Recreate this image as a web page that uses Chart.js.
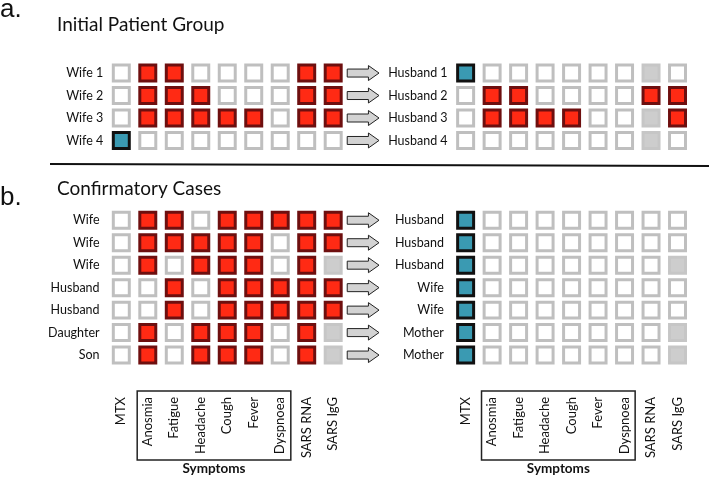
<!DOCTYPE html>
<html><head><meta charset="utf-8">
<script src="https://cdn.jsdelivr.net/npm/chart.js@4/dist/chart.umd.min.js"></script>
<style>html,body{margin:0;padding:0;background:#fff}#wrap{width:709px;height:478px}</style>
</head><body><div id="wrap"><canvas id="c" width="709" height="478"></canvas></div>
<script>
// ---- data ----
const columnLabels = ['MTX','Anosmia','Fatigue','Headache','Cough','Fever','Dyspnoea','SARS RNA','SARS IgG'];
const symptomGroupLabel = 'Symptoms';
const symptomFirstCol = 1, symptomLastCol = 6;
// status codes: 0 = negative, 1 = positive, 2 = MTX treated, 3 = not tested
const initialIndexLabels = ['Wife 1','Wife 2','Wife 3','Wife 4'];
const initialIndexStatus = [
  [0,1,1,0,0,0,0,1,1],
  [0,1,1,1,0,0,0,1,1],
  [0,1,1,1,1,1,0,1,1],
  [2,0,0,0,0,0,0,0,0]
];
const initialPartnerLabels = ['Husband 1','Husband 2','Husband 3','Husband 4'];
const initialPartnerStatus = [
  [2,0,0,0,0,0,0,3,0],
  [0,1,1,0,0,0,0,1,1],
  [0,1,1,1,1,0,0,3,1],
  [0,0,0,0,0,0,0,3,0]
];
const confirmIndexLabels = ['Wife','Wife','Wife','Husband','Husband','Daughter','Son'];
const confirmIndexStatus = [
  [0,1,1,0,1,1,1,1,1],
  [0,1,1,1,1,1,0,1,1],
  [0,1,0,1,1,1,0,1,3],
  [0,0,1,0,1,1,1,1,1],
  [0,0,1,0,1,1,1,1,1],
  [0,1,0,1,1,1,0,1,3],
  [0,1,0,1,1,1,0,1,3]
];
const confirmPartnerLabels = ['Husband','Husband','Husband','Wife','Wife','Mother','Mother'];
const confirmPartnerStatus = [
  [2,0,0,0,0,0,0,0,0],
  [2,0,0,0,0,0,0,0,0],
  [2,0,0,0,0,0,0,0,3],
  [2,0,0,0,0,0,0,0,0],
  [2,0,0,0,0,0,0,0,0],
  [2,0,0,0,0,0,0,0,3],
  [2,0,0,0,0,0,0,0,3]
];
const panelTitles = ['Initial Patient Group','Confirmatory Cases'];
const panelLetters = ['a.','b.'];

// ---- layout (grid units) ----
const RIGHT_COL0 = 13;
const PANEL_B_ROW0 = 6.55;
const blocks = [
  {labels: initialIndexLabels, status: initialIndexStatus, col0: 0, row0: 0},
  {labels: initialPartnerLabels, status: initialPartnerStatus, col0: RIGHT_COL0, row0: 0},
  {labels: confirmIndexLabels, status: confirmIndexStatus, col0: 0, row0: PANEL_B_ROW0},
  {labels: confirmPartnerLabels, status: confirmPartnerStatus, col0: RIGHT_COL0, row0: PANEL_B_ROW0}
];

const styles = [
  {bg:'#ffffff', border:'#bfbfbf'},
  {bg:'#ff2a14', border:'#6e0f0f'},
  {bg:'#3a9ab2', border:'#111111'},
  {bg:'#cdcdcd', border:'#c6c6c6'}
];
const points = [[],[],[],[]];
blocks.forEach(b => b.status.forEach((row, r) => row.forEach((s, c) => {
  points[s].push({x: b.col0 + c, y: b.row0 + r});
})));
const datasets = points.map((pts, i) => ({
  data: pts,
  pointStyle: 'rect',
  pointRadius: 11.3,
  pointHoverRadius: 11.3,
  pointBorderWidth: 3,
  pointHoverBorderWidth: 3,
  backgroundColor: styles[i].bg,
  borderColor: styles[i].border,
  showLine: false
}));

const FONT = 'Lato, "Open Sans", sans-serif';

const decor = {
  id: 'decor',
  beforeDraw(chart) {
    const ctx = chart.ctx;
    ctx.save(); ctx.fillStyle = '#fff'; ctx.fillRect(0, 0, chart.width, chart.height); ctx.restore();
  },
  afterDatasetsDraw(chart) {
    const ctx = chart.ctx, xs = chart.scales.x, ys = chart.scales.y;
    const X = v => xs.getPixelForValue(v), Y = v => ys.getPixelForValue(v);
    ctx.save();
    ctx.fillStyle = '#111';
    // panel letters and titles
    ctx.textBaseline = 'alphabetic';
    ctx.textAlign = 'left';
    ctx.font = '26px "Liberation Sans", Arial, sans-serif';
    ctx.fillText(panelLetters[0], 0, 17);
    ctx.fillText(panelLetters[1], 0, 205);
    ctx.font = '19px ' + FONT;
    ctx.fillText(panelTitles[0], 57, 31);
    ctx.fillText(panelTitles[1], 57, 195);
    // separator
    ctx.strokeStyle = '#111'; ctx.lineWidth = 2;
    ctx.beginPath(); ctx.moveTo(50, 164); ctx.lineTo(709, 166); ctx.stroke();
    // row labels
    ctx.font = '12.5px ' + FONT;
    ctx.textAlign = 'right'; ctx.textBaseline = 'middle';
    blocks.forEach((b, bi) => {
      const off = (bi >= 2) ? -0.82 : -0.68;
      b.labels.forEach((lab, r) => ctx.fillText(lab, X(b.col0 + off), Y(b.row0 + r)));
    });
    // arrows
    ctx.fillStyle = '#d3d3d3'; ctx.strokeStyle = '#222'; ctx.lineWidth = 1;
    blocks[0].labels.concat(blocks[2].labels).forEach((_, i) => {
      const row = i < blocks[0].labels.length ? i : PANEL_B_ROW0 + i - blocks[0].labels.length;
      const y = Y(row), x0 = X(8.53), xh = X(9.33), x1 = X(9.73);
      ctx.beginPath();
      ctx.moveTo(x0, y - 4); ctx.lineTo(xh, y - 4); ctx.lineTo(xh, y - 7.5);
      ctx.lineTo(x1, y); ctx.lineTo(xh, y + 7.5); ctx.lineTo(xh, y + 4); ctx.lineTo(x0, y + 4);
      ctx.closePath(); ctx.fill(); ctx.stroke();
    });
    // column labels, symptom boxes
    ctx.fillStyle = '#111';
    [0, RIGHT_COL0].forEach(c0 => {
      ctx.font = '13px ' + FONT;
      ctx.textAlign = 'right'; ctx.textBaseline = 'middle';
      columnLabels.forEach((lab, c) => {
        ctx.save();
        ctx.translate(X(c0 + c), 397);
        ctx.rotate(-Math.PI / 2);
        ctx.fillText(lab, 0, 0);
        ctx.restore();
      });
      const bx0 = X(c0 + symptomFirstCol - 0.4), bx1 = X(c0 + symptomLastCol + 0.4);
      ctx.strokeStyle = '#222'; ctx.lineWidth = 1.5;
      ctx.strokeRect(bx0, 391, bx1 - bx0, 69);
      ctx.font = 'bold 13.5px ' + FONT;
      ctx.textAlign = 'center';
      ctx.fillText(symptomGroupLabel, (bx0 + bx1) / 2, 469);
    });
    ctx.restore();
  }
};

new Chart(document.getElementById('c'), {
  type: 'scatter',
  data: { datasets },
  options: {
    responsive: false,
    animation: false,
    events: [],
    layout: { padding: 0 },
    plugins: { legend: {display: false}, tooltip: {enabled: false} },
    scales: {
      x: { type: 'linear', min: -111.5 / 27.6, max: (709 - 111.5) / 27.6, display: false },
      y: { type: 'linear', min: -62.5 / 23.9, max: (478 - 62.5) / 23.9, reverse: true, display: false }
    }
  },
  plugins: [decor]
});
</script>
</body></html>
